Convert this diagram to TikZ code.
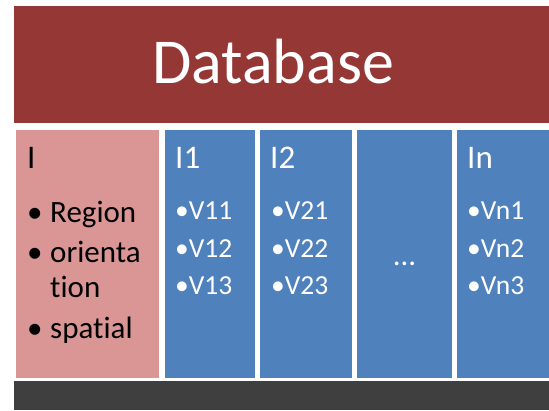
\documentclass[tikz,border=0pt]{standalone}
\usepackage{fontspec}
\setmainfont{Carlito}[Ligatures={NoCommon,NoContextual}]
\definecolor{bannerc}{HTML}{953735}
\definecolor{pinkc}{HTML}{D99694}
\definecolor{bluec}{HTML}{4F81BD}
\definecolor{darkc}{HTML}{3F3F3F}
\begin{document}
\begin{tikzpicture}[x=1pt,y=-1pt,
  hdr/.style={anchor=base west,inner sep=0pt,text=white,font=\fontsize{33}{33}\selectfont},
  pinktxt/.style={anchor=base west,inner sep=0pt,text=black,font=\fontsize{31}{31}\selectfont},
  item/.style={anchor=base west,inner sep=0pt,text=white,font=\fontsize{27.5}{27.5}\selectfont}]
\useasboundingbox (0,0) rectangle (549,410);
\fill[white] (0,0) rectangle (549,410);
% banner
\fill[bannerc] (14,6) rectangle (549,123);
\node[anchor=base,inner sep=0pt,text=white,font=\fontsize{64}{64}\selectfont] (title) at (273,83) {Database};
% columns
\fill[pinkc] (16,130) rectangle (159,378);
\fill[bluec] (165,130) rectangle (255,378);
\fill[bluec] (260,130) rectangle (352,378);
\fill[bluec] (357,130) rectangle (452,378);
\fill[bluec] (457,130) rectangle (549,378);
\fill[darkc] (14,381) rectangle (549,410);
% pink column
\node[hdr,text=black] (h0) at (27,168) {I};
\node[pinktxt] (p1) at (27,222) {\makebox[23pt][l]{•}Region};
\node[pinktxt] (p2) at (27,262) {\makebox[23pt][l]{•}orienta};
\node[pinktxt] (p3) at (50,297) {tion};
\node[pinktxt] (p4) at (27,338) {\makebox[23pt][l]{•}spatial};
% I1
\node[hdr] (h1) at (175,168) {I1};
\node[item] (a1) at (175,219) {•V11};
\node[item] (a2) at (175,257) {•V12};
\node[item] (a3) at (175,294) {•V13};
% I2
\node[hdr] (h2) at (270,168) {I2};
\node[item] (b1) at (271,219) {•V21};
\node[item] (b2) at (271,257) {•V22};
\node[item] (b3) at (271,294) {•V23};
% dots
\node[anchor=base,inner sep=0pt,text=white,font=\fontsize{31}{31}\selectfont] (dots) at (404.5,265) {...};
% In
\node[hdr] (hn) at (467,168) {In};
\node[item] (c1) at (467,219) {•Vn1};
\node[item] (c2) at (467,257) {•Vn2};
\node[item] (c3) at (467,294) {•Vn3};
\end{tikzpicture}
\end{document}
